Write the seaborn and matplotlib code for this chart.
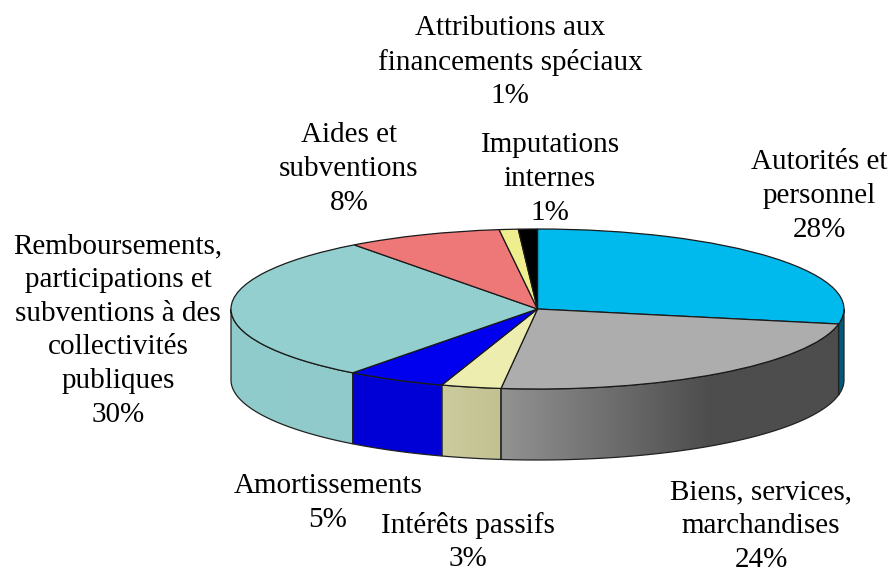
import numpy as np
import matplotlib
matplotlib.use("Agg")
import matplotlib.pyplot as plt
from matplotlib.colors import to_rgb
from matplotlib.patches import Polygon
import seaborn as sns

categories = ["Autorités et\npersonnel", "Biens, services,\nmarchandises", "Intérêts passifs",
              "Amortissements",
              "Remboursements,\nparticipations et\nsubventions à des\ncollectivités\npubliques",
              "Aides et\nsubventions", "Attributions aux\nfinancements spéciaux",
              "Imputations\ninternes"]
values = [28, 23.9, 3.15, 5.25, 29.5, 8.2, 1, 1]
top_colors = ["#00BAEE", "#ADADAD", "#EDEDB0", "#0000EE", "#94CFCF", "#EE7777", "#EEEE8E", "#000000"]
# wall gradient: colours at (left, right) of the slice's visible wall, with flat part beyond
wall_colors = [("#005A78", "#005A78"), ("#929292", "#4D4D4D"), ("#CCCB9E", "#C2C190"),
               ("#0000D6", "#0000D6"), ("#90CCCC", "#90CACA"), ("#000000", "#000000"),
               ("#000000", "#000000"), ("#000000", "#000000")]
label_px = [(819, 196), (761, 526), (468, 542), (328, 503), (118, 330.5), (349, 169), (510, 62), (550, 179)]

W, H = 892, 572
CX, CY, RX, RY, DEPTH = 537.5, 309.0, 306.5, 80.0, 71.0

sns.set_theme(style="white")
plt.rcParams["font.family"] = ["Liberation Serif", "DejaVu Serif"]

fig = plt.figure(figsize=(W / 100, H / 100), dpi=100, facecolor="white")
ax = fig.add_axes([0, 0, 1, 1])
xlim = (-CX / RX, (W - CX) / RX)
ylim = ((CY - H) / RY, CY / RY)
depth = DEPTH / RY

total = sum(values)
edges = 90 - 360 * np.cumsum([0] + values) / total

# side walls of the front half
for i, val in enumerate(values):
    hi, lo = min(edges[i], 0), max(edges[i + 1], -180)
    if hi <= lo:
        continue
    t = np.radians(np.linspace(lo, hi, 160))
    x, y = np.cos(t), np.sin(t)
    pts = np.r_[np.c_[x, y], np.c_[x, y - depth][::-1]]
    c0, c1 = map(np.array, map(to_rgb, wall_colors[i]))
    x0, x1 = x.min(), x.max()
    # grey wall reaches its darkest colour before the right edge
    span = np.linspace(0, 1, 256)
    if i == 1:
        span = np.clip(span / 0.62, 0, 1)
    grad = (c0[None, :] * (1 - span[:, None]) + c1[None, :] * span[:, None])[None, :, :]
    poly = Polygon(pts, closed=True, transform=ax.transData, facecolor="none",
                   edgecolor="#222222", linewidth=0.9, zorder=3)
    im = ax.imshow(grad, extent=(x0, x1, y.min() - depth, y.max()), aspect="auto",
                   origin="lower", interpolation="bilinear", zorder=2)
    ax.add_patch(poly)
    im.set_clip_path(poly)

ax.pie(values, colors=top_colors, startangle=90, counterclock=False, radius=1,
       wedgeprops=dict(edgecolor="#1a1a1a", linewidth=0.9, zorder=4))
ax.set_aspect("auto")
ax.set_xlim(*xlim)
ax.set_ylim(*ylim)
ax.axis("off")

for name, val, (px, py) in zip(categories, values, label_px):
    fig.text(px / W, 1 - py / H, f"{name}\n{val:.0f}%", ha="center", va="center",
             fontsize=21, color="black", linespacing=1.39)

fig.savefig("out.png", dpi=100)
